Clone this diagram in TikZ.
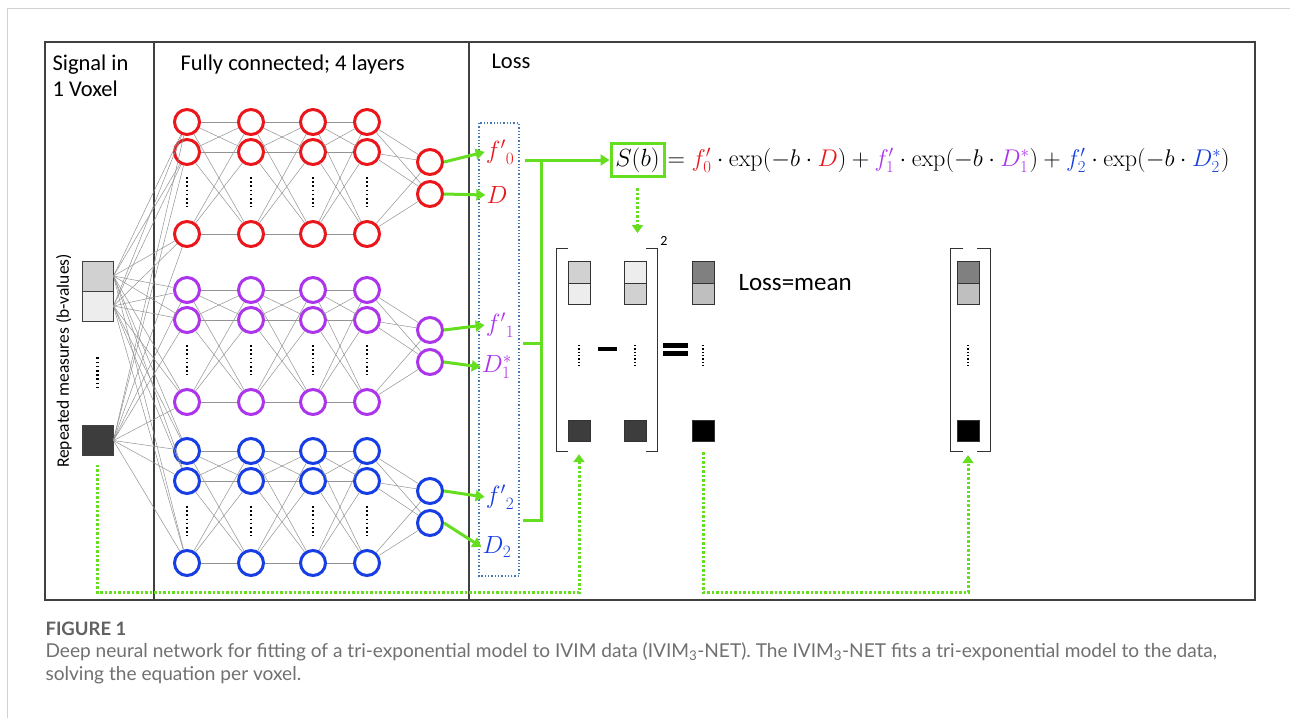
\documentclass[tikz,border=0pt]{standalone}
\usepackage[no-math]{fontspec}
\setmainfont{Carlito}
\newfontfamily\capfont{Lato}
\usetikzlibrary{positioning, arrows.meta, calc}

\definecolor{nnred}{RGB}{235,22,28}
\definecolor{nnpurple}{RGB}{172,52,235}
\definecolor{nnblue}{RGB}{22,62,228}
\definecolor{lossgreen}{RGB}{102,222,32}
\definecolor{boxblue}{RGB}{70,120,180}
\definecolor{capgray}{RGB}{112,112,112}

\begin{document}
\begin{tikzpicture}[x=1pt, y=-1pt,
        neuron/.style={circle, draw=#1, line width=3pt, fill=white,
                       minimum size=25pt, inner sep=0pt},
        edge/.style={draw=gray!85, line width=0.5pt},
        cell/.style={rectangle, draw=black!80, line width=0.8pt,
                     minimum width=22pt, minimum height=21.5pt, inner sep=0pt},
        insq/.style={rectangle, draw=black!75, line width=0.9pt,
                     minimum width=31pt, minimum height=30pt, inner sep=0pt},
        vdots/.style={draw=black, line width=2.4pt, dash pattern=on 1.6pt off 2.6pt},
        sdots/.style={draw=black, line width=2pt, dash pattern=on 1.3pt off 2pt},
        gline/.style={draw=lossgreen, line width=3pt},
        garrow/.style={gline, -{Triangle[length=9pt, width=11pt]}},
        gdots/.style={draw=lossgreen, line width=3pt, dash pattern=on 2.5pt off 2pt,
                      -{Triangle[length=8pt, width=11pt]}},
        bracket/.style={draw=black!80, line width=1pt},
        frame/.style={draw=black!75, line width=1.3pt},
        title/.style={anchor=north west, align=left, font=\fontsize{22.5}{26}\selectfont},
        lbl/.style={font=\fontsize{24}{28}\selectfont, inner sep=1pt}
    ]
        \useasboundingbox (0,0) rectangle (1290,718);
        \fill[white] (0,0) rectangle (1290,718);
        \draw[black!18, line width=1pt] (7,718) -- (7,8) -- (1290,8);

        % panel frame and dividers
        \draw[frame] (45,42) rectangle (1255,600);
        \draw[frame] (154,42) -- (154,600);
        \draw[frame] (469,42) -- (469,600);

        \node[title] (t-signal) at (49,51) {Signal in\\1 Voxel};
        \node[title] (t-fc) at (177,51) {Fully connected; 4 layers};
        \node[title] (t-loss) at (488,51) {Loss};

        % input voxel signal
        \node[insq, fill=black!18] (in-1) at (97.5,276) {};
        \node[insq, fill=black!7]  (in-2) at (97.5,306) {};
        \node[insq, fill=black!76] (in-3) at (97.5,440.5) {};
        \draw[vdots, shorten <=36pt, shorten >=37pt] (in-2.south) -- (in-3.north);
        \node[rotate=90, font=\fontsize{17.5}{20}\selectfont] (t-rep) at (64,361) {Repeated measures (b-values)};

        % three sub-networks
        \foreach \g/\col/\dy in {0/nnred/0, 1/nnpurple/168, 2/nnblue/329} {
            \foreach \l/\x in {1/187, 2/251, 3/313, 4/367} {
                \node[neuron=\col] (n-\g-\l-1) at (\x,122+\dy) {};
                \node[neuron=\col] (n-\g-\l-2) at (\x,152+\dy) {};
                \node[neuron=\col] (n-\g-\l-3) at (\x,234+\dy) {};
                \draw[vdots, shorten <=11pt, shorten >=13pt] (n-\g-\l-2) -- (n-\g-\l-3);
            }
            \node[neuron=\col] (out-\g-1) at (430,162+\dy) {};
            \node[neuron=\col] (out-\g-2) at (430,194+\dy) {};
        }
        \foreach \g in {0,1,2} {
            \foreach \l [evaluate=\l as \m using int(\l+1)] in {1,2,3}
                \foreach \i in {1,2,3}
                    \foreach \j in {1,2,3}
                        \draw[edge] (n-\g-\l-\i) -- (n-\g-\m-\j);
            \foreach \i in {1,2,3}
                \foreach \k in {1,2}
                    \draw[edge] (n-\g-4-\i) -- (out-\g-\k);
            \foreach \s in {1,2,3}
                \foreach \i in {1,2,3}
                    \draw[edge] (in-\s.east) -- (n-\g-1-\i);
        }

        % network outputs
        \draw[draw=boxblue, line width=1.3pt, dotted] (479,123) rectangle (519,576);
        \node[lbl, text=nnred]    (p-f0) at (500,152) {${f'}_0$};
        \node[lbl, text=nnred]    (p-d0) at (497,195) {$D$};
        \node[lbl, text=nnpurple] (p-f1) at (500,325) {${f'}_1$};
        \node[lbl, text=nnpurple] (p-d1) at (497,367) {$D_1^*$};
        \node[lbl, text=nnblue]   (p-f2) at (500,497) {${f'}_2$};
        \node[lbl, text=nnblue]   (p-d2) at (497,547) {$D_2$};
        \foreach \g/\a/\b in {0/f0/d0, 1/f1/d1, 2/f2/d2} {
            \draw[garrow] (out-\g-1.east) -- (p-\a.west);
            \draw[garrow] (out-\g-2.east) -- (p-\b.west);
        }

        % model equation
        \node[draw=lossgreen, line width=3pt, minimum width=53pt, minimum height=33pt,
              inner sep=1pt, font=\fontsize{23}{27}\selectfont] (sb) at (637.5,160) {$S(b)$};
        \node[anchor=west, inner sep=2pt, scale=0.97, font=\fontsize{24.6}{29}\selectfont] (eq) at (sb.east)
            {$= {\color{nnred}f_0'}\cdot\exp(-b\cdot{\color{nnred}D})
               + {\color{nnpurple}f_1'}\cdot\exp(-b\cdot{\color{nnpurple}D_1^*})
               + {\color{nnblue}f_2'}\cdot\exp(-b\cdot{\color{nnblue}D_2^*})$};
        \coordinate (bk-1) at (525,160);
        \coordinate (bk-x) at (541,160);
        \coordinate (bk-2) at (523,343);
        \coordinate (bk-3) at (523,520);
        \draw[garrow] (bk-1) -- (sb.west);
        \draw[gline] (bk-x) |- (bk-3);
        \draw[gline] (bk-2) -- (bk-2 -| bk-x);
        \draw[gdots, shorten <=10pt] (sb.south) -- ++(0,55);

        % squared difference of signals
        \foreach \c/\x/\ta/\tb/\tc in {a/579/18/7/76, b/635/7/18/76, c/703/50/25/100, r/968/50/25/100} {
            \node[cell, fill=black!\ta] (\c-1) at (\x,272.5) {};
            \node[cell, fill=black!\tb] (\c-2) at (\x,294) {};
            \node[cell, fill=black!\tc] (\c-3) at (\x,431) {};
            \draw[sdots, shorten <=40pt, shorten >=52pt] (\c-2.south) -- (\c-3.north);
        }
        \draw[bracket] (568,248) -| (556,451) -- (568,451);
        \draw[bracket] (646,248) -| (657,451) -- (646,451);
        \draw[bracket] (963,248) -| (950,451) -- (963,451);
        \draw[bracket] (977,248) -| (990,451) -- (977,451);
        \node[font=\fontsize{14}{16}\selectfont, inner sep=0pt] (sq) at (664,241) {2};
        \draw[line width=3.5pt] (598,349) -- (617,349);
        \draw[line width=4.2pt] (663,345.5) -- (688,345.5);
        \draw[line width=4.2pt] (663,353.5) -- (688,353.5);
        \node[anchor=west, font=\fontsize{25}{28}\selectfont] (t-mean) at (735,283) {Loss=mean};

        % target signal feedback
        \draw[gdots, shorten <=9pt, shorten >=12pt] (in-3.south) -- ++(0,137) -| (a-3.south);
        \draw[gdots, shorten <=10pt, shorten >=13pt] (c-3.south) -- ++(0,150) -| (r-3.south);

        % caption
        \node[anchor=west, text=black!62, font=\capfont\bfseries\fontsize{18.5}{21}\selectfont] (cap-h) at (42,629) {FIGURE 1};
        \node[anchor=west, text=capgray, font=\capfont\fontsize{19.1}{21}\selectfont] (cap-1) at (42,652)
            {Deep neural network for fitting of a tri-exponential model to IVIM data (IVIM\textsubscript{3}-NET). The IVIM\textsubscript{3}-NET fits a tri-exponential model to the data,};
        \node[anchor=west, text=capgray, font=\capfont\fontsize{19.1}{21}\selectfont] (cap-2) at (42,675)
            {solving the equation per voxel.};
    \end{tikzpicture}
\end{document}
